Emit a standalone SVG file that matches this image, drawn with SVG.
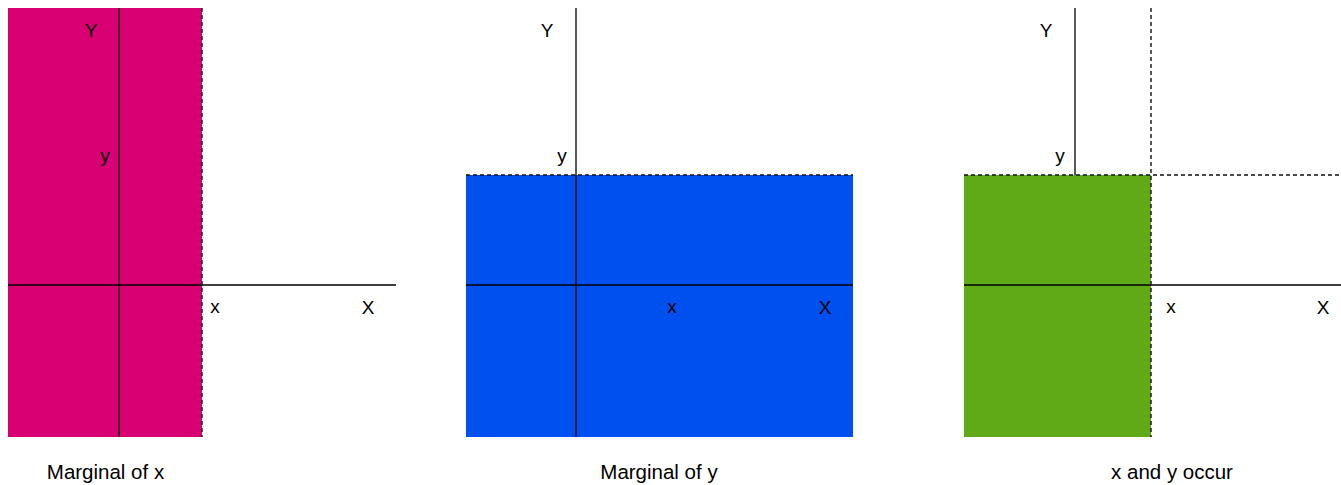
<svg xmlns="http://www.w3.org/2000/svg" width="1341" height="485" viewBox="0 0 1341 485">
<style>
.axis{stroke:#000;stroke-width:1.3;fill:none}
.dash{stroke:#111;stroke-width:1.4;stroke-dasharray:4 3;fill:none}
.lbl{font-family:"Liberation Sans",Arial,sans-serif;font-size:19px;fill:#000;text-anchor:middle}
.cap{font-family:"Liberation Sans",Arial,sans-serif;font-size:20.5px;fill:#000;text-anchor:middle}
</style>
<rect width="1341" height="485" fill="#fff"/>
<g id="panel-marginal-x">
<rect x="8" y="8" width="194" height="429" fill="#D80073"/>
<text class="lbl" x="91" y="37">Y</text>
<text class="lbl" x="105" y="162">y</text>
<text class="lbl" x="215" y="313">x</text>
<text class="lbl" x="368" y="314">X</text>
<text class="cap" x="105.5" y="479">Marginal of x</text>
</g>
<g id="panel-marginal-y">
<rect x="466" y="175" width="387" height="262" fill="#0050EF"/>
<text class="lbl" x="547" y="37">Y</text>
<text class="lbl" x="562" y="162">y</text>
<text class="lbl" x="672" y="313">x</text>
<text class="lbl" x="825" y="314">X</text>
<text class="cap" x="659" y="479">Marginal of y</text>
</g>
<g id="panel-joint">
<rect x="964" y="175" width="187" height="262" fill="#60A917"/>
<text class="lbl" x="1046" y="37">Y</text>
<text class="lbl" x="1060" y="162">y</text>
<text class="lbl" x="1171" y="313">x</text>
<text class="lbl" x="1323" y="314">X</text>
<text class="cap" x="1172" y="479">x and y occur</text>
</g>
<g id="connectors">
<line class="axis" x1="119" y1="8" x2="119" y2="437"/>
<line class="axis" x1="8" y1="285" x2="396" y2="285"/>
<line class="dash" x1="202" y1="8" x2="202" y2="437"/>
<line class="axis" x1="576" y1="8" x2="576" y2="437"/>
<line class="axis" x1="466" y1="285" x2="853" y2="285"/>
<line class="dash" x1="466" y1="175" x2="853" y2="175"/>
<line class="axis" x1="1075" y1="8" x2="1075" y2="175" stroke="#444"/>
<line class="axis" x1="964" y1="285" x2="1341" y2="285"/>
<line class="dash" x1="1151" y1="8" x2="1151" y2="437"/>
<line class="dash" x1="964" y1="175" x2="1341" y2="175"/>
</g>
</svg>
